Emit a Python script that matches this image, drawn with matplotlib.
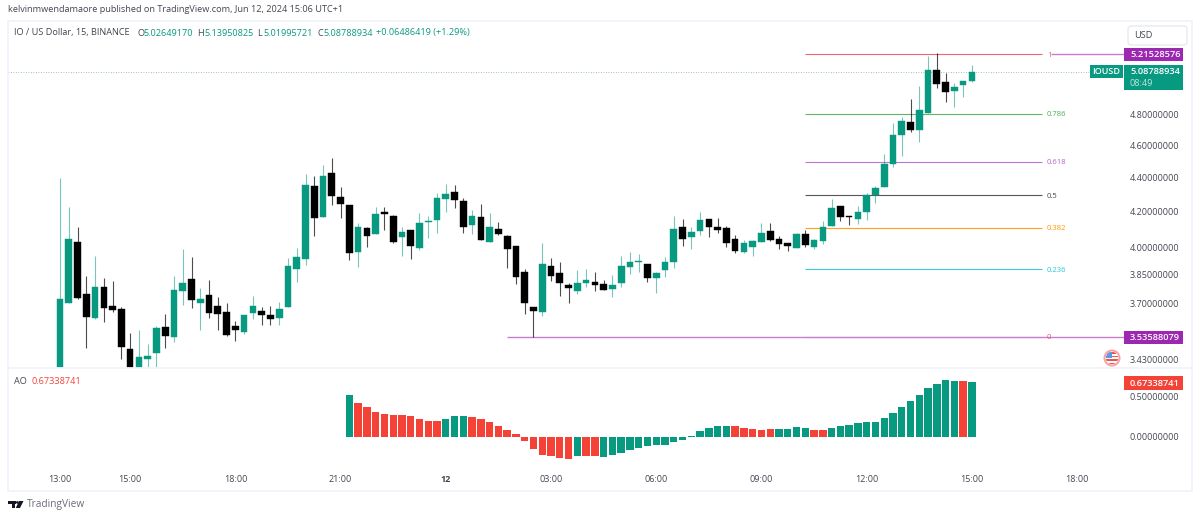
import matplotlib
matplotlib.use("Agg")
import matplotlib.pyplot as plt
from matplotlib.patches import Rectangle, FancyBboxPatch, Circle, Polygon
from matplotlib.ticker import NullLocator

plt.rcParams['font.family'] = ['Open Sans', 'DejaVu Sans']

opens = [3.243,3.705,4.029,3.751,3.629,3.787,3.689,3.674,3.478,3.370,3.431,3.459,3.585,3.536,3.767,3.829,3.705,3.746,3.689,3.659,3.590,
         3.560,3.654,3.664,3.644,3.629,3.684,3.882,3.936,4.351,4.169,4.429,4.285,4.239,3.974,4.107,4.073,4.198,4.175,4.056,4.096,3.995,
         4.141,4.152,4.274,4.315,4.262,4.124,4.169,4.029,4.101,4.062,4.006,3.866,3.684,3.659,3.898,3.861,3.798,3.767,3.808,3.813,3.803,
         3.777,3.808,3.893,3.920,3.909,3.834,3.877,3.920,4.112,4.056,4.090,4.158,4.112,4.107,4.045,3.974,4.001,4.029,4.090,4.045,4.023,
         3.995,4.073,4.001,4.034,4.118,4.233,4.175,4.158,4.198,4.297,4.345,4.484,4.666,4.750,4.698,4.810,5.102,5.019,4.957,4.998,5.0265]
highs = [4.399,4.227,4.112,3.845,3.952,3.834,3.818,3.684,3.555,3.570,3.502,3.590,3.649,3.845,3.990,3.946,3.782,3.824,3.735,3.705,3.614,
         3.644,3.741,3.684,3.689,3.710,3.941,3.995,4.423,4.411,4.478,4.521,4.345,4.239,4.135,4.112,4.227,4.227,4.181,4.112,4.096,4.192,
         4.175,4.309,4.363,4.356,4.280,4.210,4.245,4.192,4.141,4.068,4.006,3.882,3.684,4.023,3.941,3.920,3.808,3.877,3.882,3.866,3.824,
         3.850,3.952,3.974,3.963,3.909,3.866,3.946,4.175,4.158,4.112,4.198,4.158,4.164,4.118,4.068,4.040,4.040,4.135,4.135,4.062,4.023,
         4.079,4.096,4.045,4.147,4.274,4.233,4.175,4.233,4.309,4.351,4.546,4.744,4.783,4.903,4.991,5.201,5.222,5.081,5.012,5.026,5.1395]
lows = [3.243,3.705,3.725,3.483,3.624,3.609,3.659,3.431,3.370,3.370,3.370,3.379,3.483,3.512,3.694,3.679,3.570,3.629,3.570,3.541,3.516,
        3.551,3.624,3.595,3.595,3.595,3.684,3.813,3.903,4.062,4.169,4.239,4.164,3.930,3.893,4.001,4.073,4.096,4.023,3.952,3.936,3.985,
        4.051,4.079,4.198,4.221,4.079,4.073,4.040,4.029,4.068,3.887,3.803,3.649,3.536,3.639,3.818,3.741,3.705,3.751,3.787,3.767,3.772,
        3.735,3.787,3.855,3.866,3.813,3.756,3.840,3.887,4.006,3.990,4.068,4.056,4.079,4.001,3.968,3.968,3.952,4.029,4.034,3.990,3.979,
        3.995,4.001,3.990,4.018,4.118,4.147,4.124,4.130,4.152,4.250,4.345,4.466,4.534,4.686,4.622,4.810,4.977,4.883,4.849,4.916,5.0200]
closes = [3.725,4.045,3.730,3.634,3.787,3.679,3.669,3.488,3.370,3.440,3.445,3.580,3.541,3.772,3.808,3.720,3.725,3.654,3.649,3.546,3.570,
          3.644,3.689,3.644,3.624,3.674,3.898,3.946,4.356,4.164,4.411,4.291,4.245,3.968,4.112,4.062,4.187,4.187,4.029,4.084,4.006,4.135,
          4.147,4.280,4.303,4.268,4.112,4.175,4.040,4.112,4.073,3.990,3.840,3.705,3.664,3.909,3.845,3.808,3.782,3.808,3.824,3.798,3.772,
          3.798,3.898,3.920,3.925,3.834,3.861,3.920,4.101,4.045,4.084,4.152,4.112,4.096,4.023,3.979,4.023,4.034,4.079,4.040,4.018,4.006,
          4.073,4.012,4.040,4.112,4.221,4.169,4.169,4.198,4.297,4.339,4.484,4.666,4.757,4.698,4.829,5.102,5.005,4.950,4.984,5.026,5.0879]

ao_values = [0.514,0.42,0.371,0.31,0.286,0.273,0.273,0.257,0.224,0.196,0.196,0.216,0.253,0.253,0.245,0.224,0.188,0.135,0.09,0.033,
             -0.053,-0.151,-0.22,-0.237,-0.253,-0.269,-0.229,-0.229,-0.237,-0.241,-0.22,-0.192,-0.159,-0.131,-0.11,-0.102,-0.094,-0.065,
             -0.033,0.012,0.073,0.114,0.131,0.131,0.131,0.114,0.102,0.09,0.102,0.102,0.102,0.122,0.114,0.09,0.09,0.114,0.131,0.151,0.167,
             0.18,0.188,0.229,0.294,0.363,0.441,0.518,0.596,0.653,0.694,0.686,0.686,0.673]
ao_flags = list("grrrrrrrrrrggg" "rrrrrrrrrrrr" "g" "rr" "ggggggggggggggg" "rrrrr" "gggg" "rr" "ggggggggggggggg" "r" "g" "r")
ao_first_bar = 33

time_ticks = [0, 8, 20, 32, 44, 56, 68, 80, 92, 104, 116]
time_labels = ['13:00', '15:00', '18:00', '21:00', '12', '03:00', '06:00', '09:00', '12:00', '15:00', '18:00']
price_ticks = [3.43, 3.7, 3.85, 4.0, 4.2, 4.4, 4.6, 4.8]
ao_ticks = [0.0, 0.5]

fib_ratios = ['1', '0.786', '0.618', '0.5', '0.382', '0.236', '0']
fib_prices = [5.21528576, 4.804, 4.497, 4.297, 4.107, 3.879, 3.53588079]
fib_colors = ['#F7525F', '#4CAF50', '#B565C9', '#444444', '#FF9800', '#26C6DA', '#C77DD0']
fib_start = 85
fib_end = 112
low_ray_start = 51
high_ray_start = 113
high_price = 5.21528576
low_price = 3.53588079
last_price = 5.08788934
ao_last = 0.67338741

GREEN = '#089981'
RED = '#F44336'
PURPLE = '#9C27B0'
W, H = 1200, 519
L_PX, R_PX = 8, 1125
TOP_PX, MID_PX, AO_BOT_PX = 22, 368, 466

fig = plt.figure(figsize=(12, 5.19), dpi=100, facecolor='white')
def box(l, t, r, b):
    return [l / W, 1 - b / H, (r - l) / W, (b - t) / H]

ax = fig.add_axes(box(L_PX, TOP_PX, R_PX, MID_PX))
ao = fig.add_axes(box(L_PX, MID_PX, R_PX, AO_BOT_PX))
xlim = (-5.93, 121.46)

# price pane
ax.set_yscale('log')
ax.set_xlim(*xlim)
ax.set_ylim(3.388, 5.45)
idx = range(len(opens))
for i, o, h, l, c in zip(idx, opens, highs, lows, closes):
    up = c >= o
    col = GREEN if up else '#000000'
    ax.vlines(i, l, h, color=col, lw=0.8, alpha=0.55 if up else 0.7, zorder=3)
    ax.bar(i, abs(c - o), bottom=min(o, c), width=0.76, color=col, edgecolor=col, lw=0.3, alpha=1, zorder=4)

# fib levels
for price, colr, lab in zip(fib_prices, fib_colors, fib_ratios):
    ax.hlines(price, fib_start, fib_end, color=colr, lw=0.8, alpha=0.9, zorder=2)
    ax.text(fib_end + 0.55, price, lab, color=('#F7525F' if lab == '0' else colr), fontsize=5.5, ha='left', va='center_baseline')
ax.hlines(low_price, low_ray_start, xlim[1], color='#C77DD0', lw=1.0, zorder=2)
ax.hlines(high_price, high_ray_start, xlim[1], color='#C77DD0', lw=1.0, zorder=2)
ax.hlines(last_price, xlim[0], 117.6, color='#5E9C92', lw=0.6, linestyles=(0, (1, 2)), alpha=0.8, zorder=1)

ax.yaxis.tick_right()
ax.set_yticks(price_ticks)
ax.set_yticklabels([f'{p:.8f}' for p in price_ticks])
ax.yaxis.set_minor_locator(NullLocator())
ax.tick_params(axis='y', which='both', length=0, pad=3.6, labelsize=6.5, labelcolor='#42464F')
ax.set_xticks([])
for s in ax.spines.values():
    s.set_visible(False)
ax.patch.set_alpha(0)

# AO pane
ao.set_xlim(*xlim)
ao.set_ylim((437 - AO_BOT_PX) / 81.7, (437 - MID_PX) / 81.7)
ao_x = [ao_first_bar + k for k in range(len(ao_values))]
ao_cols = [GREEN if f == 'g' else RED for f in ao_flags]
ao.bar(ao_x, ao_values, width=0.84, color=ao_cols, lw=0)
ao.yaxis.tick_right()
ao.set_yticks(ao_ticks)
ao.set_yticklabels([f'{p:.8f}' for p in ao_ticks])
ao.tick_params(axis='y', length=0, pad=3.6, labelsize=6.5, labelcolor='#42464F')
ao.set_xticks(time_ticks)
ao.set_xticklabels(time_labels)
ao.tick_params(axis='x', length=0, pad=6.5, labelsize=6.5, labelcolor='#42464F')
for lbl, t in zip(ao.get_xticklabels(), time_labels):
    if t == '12':
        lbl.set_fontweight('bold')
for s in ao.spines.values():
    s.set_visible(False)
ao.patch.set_alpha(0)

# chrome overlay in pixel coordinates
ov = fig.add_axes([0, 0, 1, 1], zorder=10)
ov.set_xlim(0, W)
ov.set_ylim(H, 0)
ov.axis('off')
ov.patch.set_alpha(0)
BORDER = '#F0F3FA'
ov.add_patch(Rectangle((7.5, 21), 1184, 470, fill=False, edgecolor=BORDER, lw=1.3))
ov.plot([7.5, 1191.5], [368, 368], color=BORDER, lw=1.3)

TXT = '#42464F'
FS = 6.6
ov.text(8, 9.5, 'kelvinmwendamaore published on TradingView.com, Jun 12, 2024 15:06 UTC+1', fontsize=6.6, color=TXT, va='center')
ov.text(14, 33, 'IO / US Dollar, 15, BINANCE', fontsize=FS, color=TXT, va='center')
legend_parts = [('O', 137), ('H', 197), ('L', 257), ('C', 317)]
legend_vals = [('5.02649170', 143.5), ('5.13950825', 204.5), ('5.01995721', 263), ('5.08788934', 323.5)]
for s, x in legend_parts:
    ov.text(x, 33, s, fontsize=FS, color=TXT, va='center')
for s, x in legend_vals:
    ov.text(x, 33, s, fontsize=FS, color=GREEN, va='center')
ov.text(376, 33, '+0.06486419 (+1.29%)', fontsize=FS, color=GREEN, va='center')
ov.text(14, 381, 'AO', fontsize=FS, color=TXT, va='center')
ov.text(32, 381, f'{ao_last:.8f}', fontsize=FS, color=RED, va='center')

# currency button
ov.add_patch(FancyBboxPatch((1128, 26), 59, 19, boxstyle='round,pad=0,rounding_size=3', facecolor='white', edgecolor='#E6E8EE', lw=0.9))
ov.text(1134, 35.5, 'USD', fontsize=FS, color=TXT, va='center')

# price labels
def tag(x0, y0, x1, y1, col):
    ov.add_patch(Rectangle((x0, y0), x1 - x0, y1 - y0, facecolor=col, edgecolor='none'))
tag(1124, 48, 1183, 61, PURPLE)
ov.text(1130, 54.5, f'{high_price:.8f}', color='white', fontsize=6.7, va='center', fontweight='semibold')
tag(1090, 65, 1123, 78, GREEN)
ov.text(1106.5, 71.5, 'IOUSD', color='white', fontsize=6.5, va='center', ha='center', fontweight='semibold')
tag(1124, 65, 1183, 89.5, GREEN)
ov.text(1130, 71.5, f'{last_price:.8f}', color='white', fontsize=6.7, va='center', fontweight='semibold')
ov.text(1130, 83, '08:49', color='#BFE6DE', fontsize=6.6, va='center')
tag(1124, 331, 1183, 344, PURPLE)
ov.text(1130, 337.5, f'{low_price:.8f}', color='white', fontsize=6.7, va='center', fontweight='semibold')
tag(1124, 376, 1183, 389.5, RED)
ov.text(1130, 383, f'{ao_last:.8f}', color='white', fontsize=6.7, va='center', fontweight='semibold')

# flag icon
ov.add_patch(Circle((1112, 358), 8.5, facecolor='#F9A3A3', edgecolor='none'))
ov.add_patch(Circle((1112, 358), 6.5, facecolor='white', edgecolor='none'))
fl = Circle((1112, 358), 6.2, transform=ov.transData)
for yy, hh, cc in [(351.8, 2, '#EF5350'), (355.5, 1.8, '#EF5350'), (359.2, 1.8, '#EF5350'), (362.5, 1.8, '#EF5350')]:
    r = Rectangle((1105, yy), 14, hh, facecolor=cc, edgecolor='none')
    ov.add_patch(r)
    r.set_clip_path(fl)
bl = Rectangle((1105, 351.5), 7, 6.5, facecolor='#5B9BE6', edgecolor='none')
ov.add_patch(bl)
bl.set_clip_path(fl)

# logo
LOGO = '#131722'
ov.add_patch(Rectangle((8, 501), 7.5, 2.8, facecolor=LOGO, edgecolor='none'))
ov.add_patch(Rectangle((11.5, 501), 3.8, 7, facecolor=LOGO, edgecolor='none'))
ov.add_patch(Circle((17.3, 502.4), 1.3, facecolor=LOGO, edgecolor='none'))
ov.add_patch(Polygon([(19, 501), (23.5, 501), (20, 508), (15.8, 508)], facecolor=LOGO, edgecolor='none'))
ov.text(26.5, 505, 'TradingView', fontsize=7.3, color='#6A6D78', va='center')

fig.savefig('out.png', dpi=100, facecolor='white')
